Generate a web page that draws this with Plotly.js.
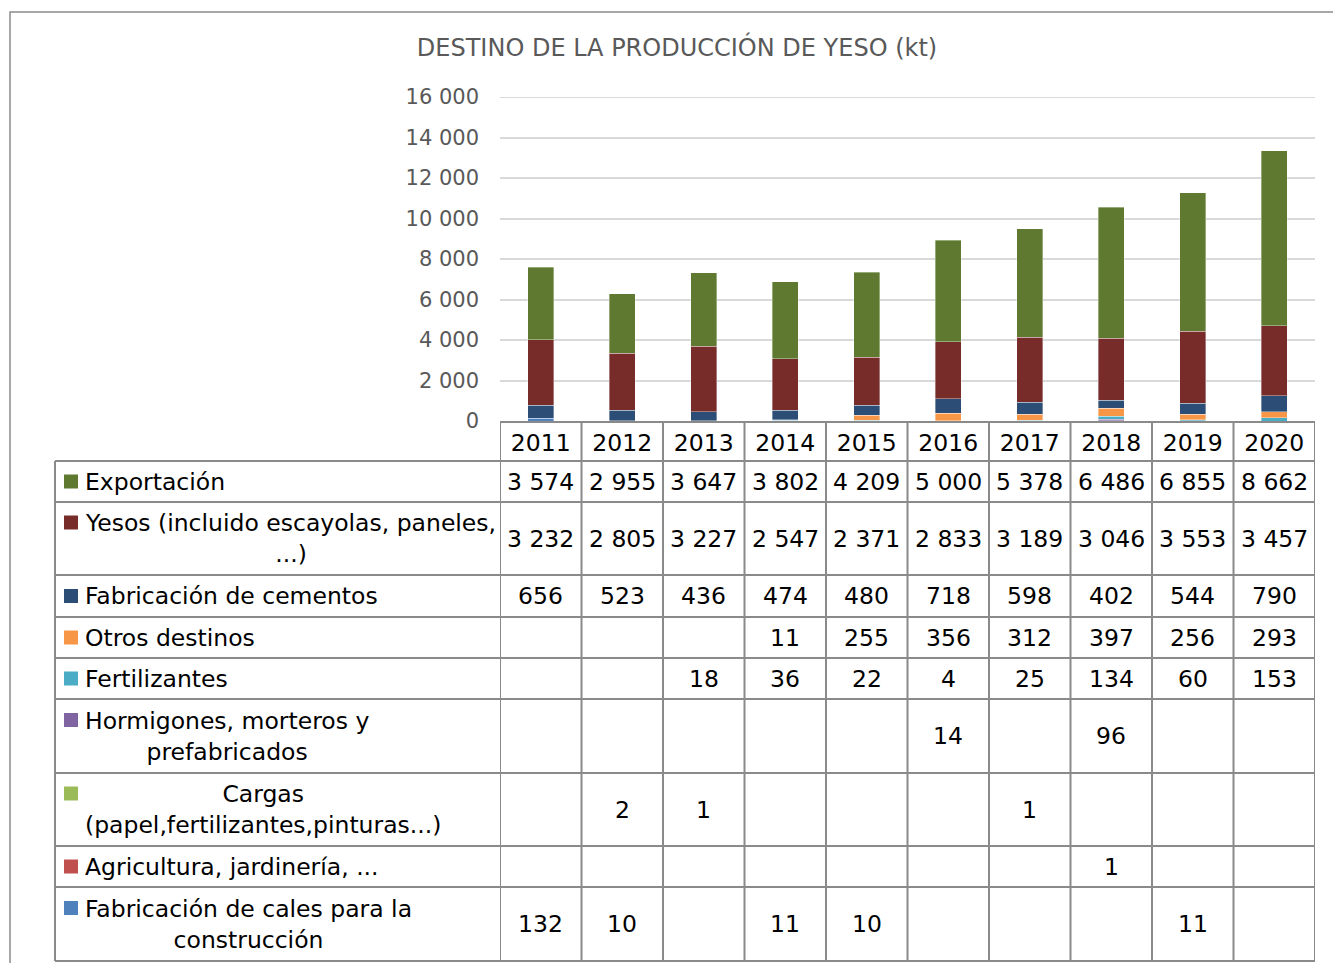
<!DOCTYPE html>
<html>
<head>
<meta charset="utf-8">
<script src="https://cdn.plot.ly/plotly-3.0.1.min.js"></script>
<style>html,body{margin:0;padding:0;background:#fff;}#chart{width:1333px;height:963px;}</style>
</head>
<body>
<div id="chart"></div>
<script>
// ---- data ----
const years = ['2011','2012','2013','2014','2015','2016','2017','2018','2019','2020'];
const exportacion   = [3574, 2955, 3647, 3802, 4209, 5000, 5378, 6486, 6855, 8662];
const yesos         = [3232, 2805, 3227, 2547, 2371, 2833, 3189, 3046, 3553, 3457];
const cementos      = [656, 523, 436, 474, 480, 718, 598, 402, 544, 790];
const otros         = [null, null, null, 11, 255, 356, 312, 397, 256, 293];
const fertilizantes = [null, null, 18, 36, 22, 4, 25, 134, 60, 153];
const hormigones    = [null, null, null, null, null, 14, null, 96, null, null];
const cargas        = [null, 2, 1, null, null, null, 1, null, null, null];
const agricultura   = [null, null, null, null, null, null, null, 1, null, null];
const cales         = [132, 10, null, 11, 10, null, null, null, 11, null];

const seriesNames = [
  'Exportación',
  'Yesos (incluido escayolas, paneles,<br>...)',
  'Fabricación de cementos',
  'Otros destinos',
  'Fertilizantes',
  'Hormigones, morteros y<br>prefabricados',
  'Cargas<br>(papel,fertilizantes,pinturas...)',
  'Agricultura, jardinería, ...',
  'Fabricación de cales para la<br>construcción'
];
const seriesValues = [exportacion, yesos, cementos, otros, fertilizantes, hormigones, cargas, agricultura, cales];
const Y_MAX = 16000;

// ---- styles / layout constants ----
const colors = ['#5f7a30', '#772c2a', '#2c4d75', '#f79646', '#4bacc6', '#8064a2', '#9bbb59', '#c0504d', '#4f81bd'];
const FONT = "'DejaVu Sans', Verdana, sans-serif";
const W = 1333, H = 963;
const PL = 500, PR = 1315, PT = 97, PB = 421;
const TABLE_LEFT = 55;
const rowLines = [461, 502, 575, 617, 658, 699, 773, 846, 887, 961];
const LINE_COLOR = '#8a8a8a';
const GRID_COLOR = '#d9d9d9';
const CELL_FONT = {family: FONT, size: 23.5, color: '#000'};

const px2x = px => (px - PL) / (PR - PL);
const py2y = py => (PB - py) / (PB - PT);
const fmt = n => String(n).replace(/\B(?=(\d{3})+(?!\d))/g, ' ');

// ---- traces (stacked bottom to top: last series first) ----
const traces = [];
for (let s = seriesValues.length - 1; s >= 0; s--) {
  traces.push({
    type: 'bar',
    x: years,
    y: seriesValues[s],
    name: seriesNames[s].replace('<br>', ' '),
    marker: {color: colors[s], line: {color: 'rgba(255,255,255,0.45)', width: 0.8}},
    width: 0.32,
    hoverinfo: 'x+y+name'
  });
}

// ---- table shapes and annotations ----
const shapes = [];
const annotations = [];

// outer frame
shapes.push({type: 'rect', xref: 'paper', yref: 'paper',
  x0: px2x(10), x1: px2x(1345), y0: py2y(975), y1: py2y(12),
  line: {color: '#8c8c8c', width: 1.5}, fillcolor: 'rgba(0,0,0,0)', layer: 'below'});

// top gridline (at the edge of the range)
shapes.push({type: 'line', xref: 'paper', yref: 'y', x0: 0, x1: 1, y0: Y_MAX, y1: Y_MAX,
  line: {color: GRID_COLOR, width: 2}, layer: 'below'});

// vertical lines at category boundaries
for (let i = 0; i <= years.length; i++) {
  shapes.push({type: 'line', xref: 'x', yref: 'paper',
    x0: i - 0.5, x1: i - 0.5, y0: py2y(PB), y1: py2y(rowLines[rowLines.length - 1]),
    line: {color: LINE_COLOR, width: 2}});
}
// left table border
shapes.push({type: 'line', xref: 'paper', yref: 'paper',
  x0: px2x(TABLE_LEFT), x1: px2x(TABLE_LEFT), y0: py2y(rowLines[0]), y1: py2y(rowLines[rowLines.length - 1]),
  line: {color: LINE_COLOR, width: 2}});
// horizontal row lines
rowLines.forEach(py => {
  shapes.push({type: 'line', xref: 'paper', yref: 'paper',
    x0: px2x(TABLE_LEFT), x1: 1, y0: py2y(py), y1: py2y(py),
    line: {color: LINE_COLOR, width: 2}});
});

for (let r = 0; r < seriesNames.length; r++) {
  const top = rowLines[r], bot = rowLines[r + 1];
  const mid = (top + bot) / 2;
  const twoLine = seriesNames[r].indexOf('<br>') >= 0;
  const sqMid = twoLine ? mid - 16 : mid;
  shapes.push({type: 'rect', xref: 'paper', yref: 'paper',
    x0: px2x(64), x1: px2x(78), y0: py2y(sqMid + 7), y1: py2y(sqMid - 7),
    line: {width: 0}, fillcolor: colors[r]});
  annotations.push({xref: 'paper', yref: 'paper', x: px2x(83), y: py2y(mid),
    xanchor: 'left', yanchor: 'middle', align: 'center', showarrow: false,
    text: seriesNames[r], font: CELL_FONT});
  seriesValues[r].forEach((v, i) => {
    if (v === null) return;
    annotations.push({xref: 'x', yref: 'paper', x: i, y: py2y(mid),
      xanchor: 'center', yanchor: 'middle', showarrow: false,
      text: fmt(v), font: CELL_FONT});
  });
}

const layout = {
  width: W, height: H,
  margin: {l: PL, r: W - PR, t: PT, b: H - PB, pad: 0},
  paper_bgcolor: '#fff', plot_bgcolor: '#fff',
  barmode: 'stack',
  showlegend: false,
  separators: ', ',
  title: {text: 'DESTINO DE LA PRODUCCIÓN DE YESO (kt)', xref: 'container', x: 677 / W, xanchor: 'center',
    yref: 'container', y: 1 - 48 / H, yanchor: 'middle',
    font: {family: FONT, size: 24, color: '#595959'}},
  xaxis: {type: 'category', range: [-0.5, years.length - 0.5], showgrid: false, zeroline: false, showline: true,
    linecolor: LINE_COLOR, linewidth: 2, ticks: '', ticklabelstandoff: 0,
    tickfont: CELL_FONT, fixedrange: true},
  yaxis: {range: [0, Y_MAX], dtick: 2000, tickformat: ',d', showgrid: true,
    gridcolor: GRID_COLOR, gridwidth: 2, zeroline: false, showline: false, ticks: '',
    ticklabelstandoff: 20,
    tickfont: {family: FONT, size: 21, color: '#595959'}, fixedrange: true},
  shapes: shapes,
  annotations: annotations
};

Plotly.newPlot('chart', traces, layout, {displayModeBar: false, staticPlot: true});
</script>
</body>
</html>
